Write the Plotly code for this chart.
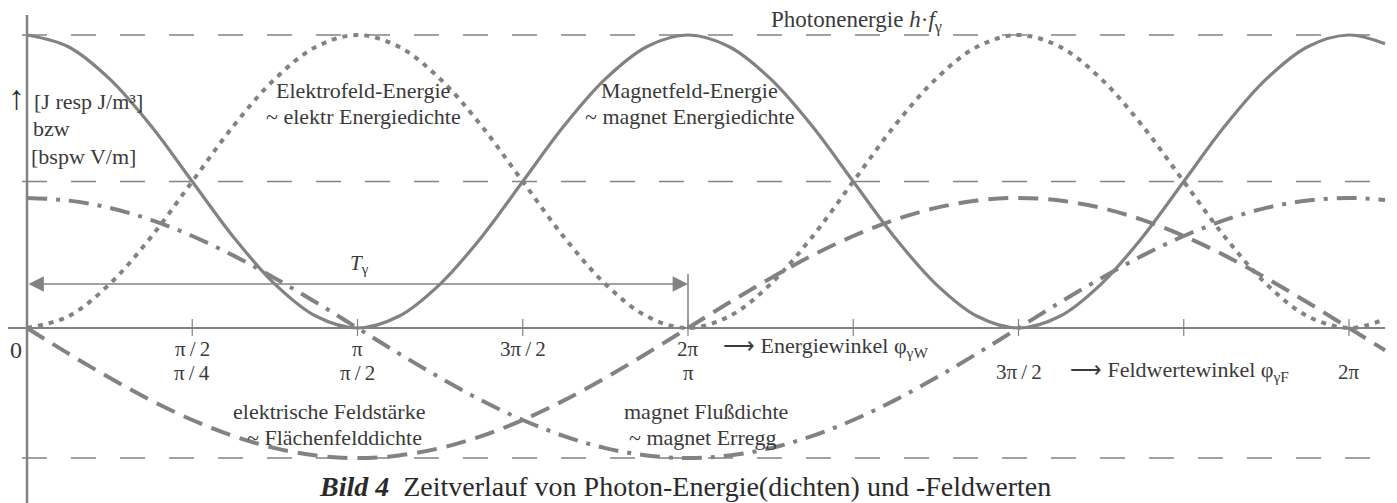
import plotly.graph_objects as go

W, H = 1397, 503

# field angle phi_gammaF in degrees (energy angle = 2 x field angle)
phi_F = [0, 11.25, 22.5, 33.75, 45, 56.25, 67.5, 78.75, 90, 101.25, 112.5, 123.75,
         135, 146.25, 157.5, 168.75, 180, 191.25, 202.5, 213.75, 225, 236.25, 247.5,
         258.75, 270, 281.25, 292.5, 303.75, 315, 326.25, 337.5, 348.75, 360, 369.8]

# energy curves (relative to photon energy h*f)
magnet_energy = [1.0, 0.96, 0.85, 0.69, 0.5, 0.31, 0.15, 0.04, 0.0, 0.04, 0.15, 0.31,
                 0.5, 0.69, 0.85, 0.96, 1.0, 0.96, 0.85, 0.69, 0.5, 0.31, 0.15,
                 0.04, 0.0, 0.04, 0.15, 0.31, 0.5, 0.69, 0.85, 0.96, 1.0, 0.97]
elektro_energy = [0.0, 0.04, 0.15, 0.31, 0.5, 0.69, 0.85, 0.96, 1.0, 0.96, 0.85, 0.69,
                  0.5, 0.31, 0.15, 0.04, 0.0, 0.04, 0.15, 0.31, 0.5, 0.69, 0.85,
                  0.96, 1.0, 0.96, 0.85, 0.69, 0.5, 0.31, 0.15, 0.04, 0.0, 0.03]
# field values
magnet_flux = [0.444, 0.435, 0.41, 0.369, 0.314, 0.247, 0.17, 0.087, 0.0, -0.087, -0.17, -0.247,
               -0.314, -0.369, -0.41, -0.435, -0.444, -0.435, -0.41, -0.369, -0.314, -0.247, -0.17,
               -0.087, 0.0, 0.087, 0.17, 0.247, 0.314, 0.369, 0.41, 0.435, 0.444, 0.437]
elektr_field = [0.0, -0.087, -0.17, -0.247, -0.314, -0.369, -0.41, -0.435, -0.444, -0.435, -0.41, -0.369,
                -0.314, -0.247, -0.17, -0.087, 0.0, 0.087, 0.17, 0.247, 0.314, 0.369, 0.41,
                0.435, 0.444, 0.435, 0.41, 0.369, 0.314, 0.247, 0.17, 0.087, 0.0, -0.076]

level_lines = [1.0, 0.5, -0.444]
tick_pos = [45, 90, 135, 180, 225, 270, 315, 360]
energy_labels = [(45, "π\u2009/\u20092"), (90, "π"), (135, "3π\u2009/\u20092"), (180, "2π")]
field_labels_row2 = [(45, "π\u2009/\u20094"), (90, "π\u2009/\u20092"), (180, "π")]
field_labels_right = [(270, "3π\u2009/\u20092"), (360, "2π")]

GRAY = "#828282"
TXT = "#3a3a3a"
FONT = "Liberation Serif"

PX_PER_DEG = 1322 / 360.0
X0_PX = 27
Y0_PX = 328
PX_PER_UNIT = 293.0
x_range = [-X0_PX / PX_PER_DEG, (W - X0_PX) / PX_PER_DEG]
y_range = [-(H - Y0_PX) / PX_PER_UNIT, Y0_PX / PX_PER_UNIT]


def px_x(px):
    return (px - X0_PX) / PX_PER_DEG


def px_y(py):
    return (Y0_PX - py) / PX_PER_UNIT


fig = go.Figure()

fig.add_trace(go.Scatter(x=phi_F, y=magnet_energy, mode="lines", line_shape="spline",
                         line=dict(color=GRAY, width=3.2), name="Magnetfeld-Energie"))
fig.add_trace(go.Scatter(x=phi_F, y=elektro_energy, mode="lines", line_shape="spline",
                         line=dict(color=GRAY, width=4, dash="5px,6px"), name="Elektrofeld-Energie"))
fig.add_trace(go.Scatter(x=phi_F, y=magnet_flux, mode="lines", line_shape="spline",
                         line=dict(color=GRAY, width=4, dash="20px,9px,4px,9px"), name="magnet Flußdichte"))
fig.add_trace(go.Scatter(x=phi_F, y=elektr_field, mode="lines", line_shape="spline",
                         line=dict(color=GRAY, width=4, dash="20px,10px"), name="elektrische Feldstärke"))

shapes = []
for lv in level_lines:
    shapes.append(dict(type="line", xref="x", yref="y", x0=px_x(22), x1=px_x(1385), y0=lv, y1=lv,
                       line=dict(color=GRAY, width=1.5, dash="25px,24px"), layer="below"))
shapes.append(dict(type="line", xref="x", yref="y", x0=px_x(8), x1=px_x(1385), y0=0, y1=0,
                   line=dict(color=GRAY, width=2.2)))
shapes.append(dict(type="line", xref="x", yref="y", x0=0, x1=0, y0=px_y(15), y1=px_y(503),
                   line=dict(color=GRAY, width=2.5)))
for t in tick_pos:
    shapes.append(dict(type="line", xref="x", yref="y", x0=t, x1=t, y0=px_y(319), y1=px_y(336),
                       line=dict(color=GRAY, width=1.2)))
shapes.append(dict(type="line", xref="x", yref="y", x0=180, x1=180, y0=0, y1=px_y(274),
                   line=dict(color=GRAY, width=1.5)))

ann = []


def txt(x, y, text, size=22, xanchor="center", color=TXT):
    ann.append(dict(x=x, y=y, xref="x", yref="y", text=text, showarrow=False,
                    xanchor=xanchor, yanchor="middle",
                    font=dict(family=FONT, size=size, color=color)))


txt(px_x(16), px_y(350), "0", size=24)
for pos, lab in energy_labels:
    txt(pos, px_y(349), lab, size=21)
for pos, lab in field_labels_row2:
    txt(pos, px_y(373), lab, size=21)
for pos, lab in field_labels_right:
    txt(pos, px_y(372), lab, size=21)

txt(px_x(721), px_y(347), "⟶ Energiewinkel φ<sub>γW</sub>", size=22, xanchor="left")
txt(px_x(1068), px_y(371), "⟶ Feldwertewinkel φ<sub>γF</sub>", size=22, xanchor="left")

txt(px_x(856), px_y(21), "Photonenergie <i>h</i>·<i>f</i><sub>γ</sub>", size=23)

txt(px_x(16), px_y(97), "↑", size=34, color="#2a2a2a")
txt(px_x(32), px_y(101), "[J resp J/m³]", size=22, xanchor="left")
txt(px_x(31), px_y(128), "bzw", size=22, xanchor="left")
txt(px_x(29), px_y(156), "[bspw V/m]", size=22, xanchor="left")

txt(px_x(363), px_y(90), "Elektrofeld-Energie", size=22)
txt(px_x(363), px_y(116), "~ elektr Energiedichte", size=22)
txt(px_x(689), px_y(90), "Magnetfeld-Energie", size=22)
txt(px_x(689), px_y(116), "~ magnet Energiedichte", size=22)

txt(px_x(359), px_y(264), "<i>T</i><sub>γ</sub>", size=21)

txt(px_x(329), px_y(411), "elektrische Feldstärke", size=22)
txt(px_x(334), px_y(437), "~ Flächenfelddichte", size=22)
txt(px_x(706), px_y(411), "magnet Flußdichte", size=22)
txt(px_x(703), px_y(437), "~ magnet Erregg", size=22)

txt(px_x(317), px_y(486), "<b><i>Bild 4</i></b>  Zeitverlauf von Photon-Energie(dichten) und -Feldwerten",
    size=28, xanchor="left", color="#2a2a2a")

ann.append(dict(x=180, y=px_y(284), xref="x", yref="y", ax=0, ay=px_y(284), axref="x", ayref="y",
                text="", showarrow=True, arrowhead=2, arrowside="end+start", arrowsize=2.2,
                arrowwidth=1.4, arrowcolor=GRAY, standoff=0, startstandoff=0))

fig.update_layout(
    width=W, height=H,
    margin=dict(l=0, r=0, t=0, b=0),
    paper_bgcolor="white", plot_bgcolor="white",
    showlegend=False,
    xaxis=dict(visible=False, range=x_range, fixedrange=True),
    yaxis=dict(visible=False, range=y_range, fixedrange=True),
    shapes=shapes,
    annotations=ann,
)

fig.write_html("out.html", config={"displayModeBar": False},
               post_script="document.body.style.margin='0px';")
